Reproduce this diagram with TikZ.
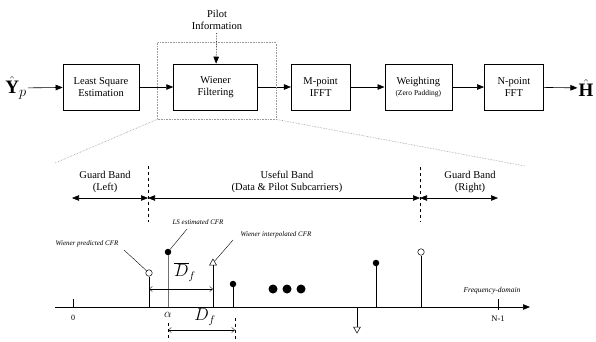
\documentclass[tikz,border=0pt]{standalone}
\usepackage{fontspec}
\setmainfont{Liberation Serif}
\usetikzlibrary{positioning, arrows.meta, calc, shapes.geometric}
\definecolor{zoomgray}{HTML}{9A9A9A}
\definecolor{stemgray}{HTML}{707070}

\tikzset{
  blk/.style={draw, line width=0.6pt, minimum height=46pt, inner sep=2pt,
              align=center, font=\fontsize{10.5}{12}\selectfont},
  arr/.style={-{Triangle[length=7pt,width=5.5pt]}, line width=0.6pt},
  bandarr/.style={{Triangle[length=7pt,width=5.5pt]}-{Triangle[length=7pt,width=5.5pt]}, line width=0.6pt},
  dimarr/.style={{Straight Barb[length=3pt,width=5pt]}-{Straight Barb[length=3pt,width=5pt]}, line width=0.4pt},
  guardline/.style={dashed, line width=0.5pt},
  zoomline/.style={zoomgray, densely dotted, line width=0.6pt},
  bandlbl/.style={align=center, font=\fontsize{10.5}{12}\selectfont},
  cfrlbl/.style={font=\fontsize{7}{8}\selectfont\itshape},
  ocirc/.style={circle, draw, fill=white, line width=0.5pt, minimum size=6.5pt, inner sep=0pt},
  fdot/.style={circle, fill, minimum size=6.5pt, inner sep=0pt},
  bigdot/.style={circle, fill, minimum size=9pt, inner sep=0pt},
  otri/.style={regular polygon, regular polygon sides=3, draw, fill=white,
               line width=0.5pt, minimum size=8pt, inner sep=0pt},
}

\begin{document}
\begin{tikzpicture}[x=1pt, y=1pt]
  \useasboundingbox (0,0) rectangle (596,-341);

  % block chain
  \node[inner sep=1pt] (yp) at (16,-88) {\fontsize{19}{20}\selectfont$\hat{\mathbf{Y}}_{p}$};
  \node[blk, minimum width=76pt] (lse) at (101,-87) {Least Square\\Estimation};
  \node[blk, minimum width=84pt, right=34pt of lse] (wf) {Wiener\\Filtering};
  \node[blk, minimum width=59pt, right=33pt of wf] (ifft) {M-point\\IFFT};
  \node[blk, minimum width=67pt, right=34pt of ifft] (wgt) {Weighting\\[-1pt]{\fontsize{7.5}{9}\selectfont(Zero Padding)}};
  \node[blk, minimum width=59pt, right=32pt of wgt] (fft) {N-point\\FFT};
  \node[inner sep=1pt] (hh) at (586,-88) {\fontsize{19}{20}\selectfont$\hat{\mathbf{H}}$};
  \node[align=center, font=\fontsize{10.5}{12}\selectfont] (pilot) at (217,-20) {Pilot\\Information};

  \draw[arr] (yp) -- (lse);
  \draw[arr] (lse) -- (wf);
  \draw[arr] (wf) -- (ifft);
  \draw[arr] (ifft) -- (wgt);
  \draw[arr] (wgt) -- (fft);
  \draw[arr] (fft) -- (hh);
  \draw[arr, densely dotted] (pilot) -- (wf);

  % zoom box
  \coordinate (zbnw) at ($(wf.north west)+(-16,21)$);
  \coordinate (zbse) at ($(wf.south east)+(18,-9)$);
  \draw[zoomline] (zbnw) rectangle (zbse);
  \coordinate (zbsw) at (zbnw |- zbse);
  \coordinate (zl) at (55,-163);
  \coordinate (zr) at (525,-166);
  \draw[zoomline] (zbsw) -- (zl);
  \draw[zoomline] (zbse) -- (zr);

  % bands
  \coordinate (gl) at (72,-198);
  \coordinate (bl) at (148,-198);
  \coordinate (br) at (420,-198);
  \coordinate (gr) at (498,-198);
  \draw[guardline] (148,-166) -- (148,-222);
  \draw[guardline] (420,-167) -- (420,-222);
  \draw[bandarr] (gl) -- (bl);
  \draw[bandarr] (bl) -- (br);
  \draw[bandarr] (br) -- (gr);
  \node[bandlbl] (gbl) at (105,-182) {Guard Band\\(Left)};
  \node[bandlbl] (ub) at (287,-182) {Useful Band\\(Data \& Pilot Subcarriers)};
  \node[bandlbl] (gbr) at (470,-182) {Guard Band\\(Right)};

  % frequency axis
  \coordinate (ax0) at (55,-307);
  \coordinate (ax1) at (530,-307);
  \draw[arr] (ax0) -- (ax1);
  \draw[line width=0.5pt] (73,-299) -- (73,-307);
  \node[font=\fontsize{8}{9}\selectfont] (zero) at (73,-318) {0};
  \draw[line width=0.5pt] (498,-299) -- (498,-310);
  \node[font=\fontsize{8.5}{9}\selectfont] (nm1) at (498,-319) {N-1};
  \node[cfrlbl, font=\fontsize{7.5}{9}\selectfont\itshape] (fd) at (492,-291) {Frequency-domain};

  % samples
  \node[ocirc] (wp) at (149,-273) {};
  \draw[line width=0.5pt] (149,-307) -- (wp);
  \node[fdot] (ls) at (168,-252) {};
  \draw[stemgray, line width=0.8pt] (168,-307) -- (ls);
  \node[otri] (wi) at (213,-263) {};
  \draw[line width=0.5pt] (213,-307) -- (wi.south);
  \node[fdot] (p1) at (233,-284) {};
  \draw[line width=0.5pt] (233,-307) -- (p1);
  \node[bigdot] (e1) at (273,-289) {};
  \node[bigdot] (e2) at (287,-289) {};
  \node[bigdot] (e3) at (301,-289) {};
  \node[otri, shape border rotate=180] (dn) at (357,-329) {};
  \draw[line width=0.5pt] (357,-307) -- (dn.north);
  \node[fdot] (p2) at (376,-263) {};
  \draw[line width=0.5pt] (376,-307) -- (p2);
  \node[ocirc] (rp) at (421,-252) {};
  \draw[line width=0.5pt] (421,-307) -- (rp);

  % CFR labels
  \node[cfrlbl] (wplbl) at (87,-244) {Wiener predicted CFR};
  \node[cfrlbl] (lslbl) at (198,-222) {LS estimated CFR};
  \node[cfrlbl] (wilbl) at (276,-235) {Wiener interpolated CFR};
  \draw[line width=0.4pt] (124,-250) -- (wp);
  \draw[line width=0.4pt] (187,-229) -- (ls);
  \draw[line width=0.4pt] (233,-240) -- (wi);

  % spacings
  \draw[dimarr] (149,-289) -- (213,-289);
  \node (dbar) at (185,-272) {\fontsize{16}{17}\selectfont$\overline{D}_{f}$};
  \node (alpha) at (168,-315) {\fontsize{13}{14}\selectfont$\alpha$};
  \draw[guardline, line width=0.4pt] (168,-323) -- (168,-341);
  \draw[guardline, line width=0.4pt] (235,-318) -- (235,-341);
  \draw[dimarr] (168,-330) -- (235,-330);
  \node (df) at (205,-317) {\fontsize{16}{17}\selectfont$D_{f}$};
\end{tikzpicture}
\end{document}
